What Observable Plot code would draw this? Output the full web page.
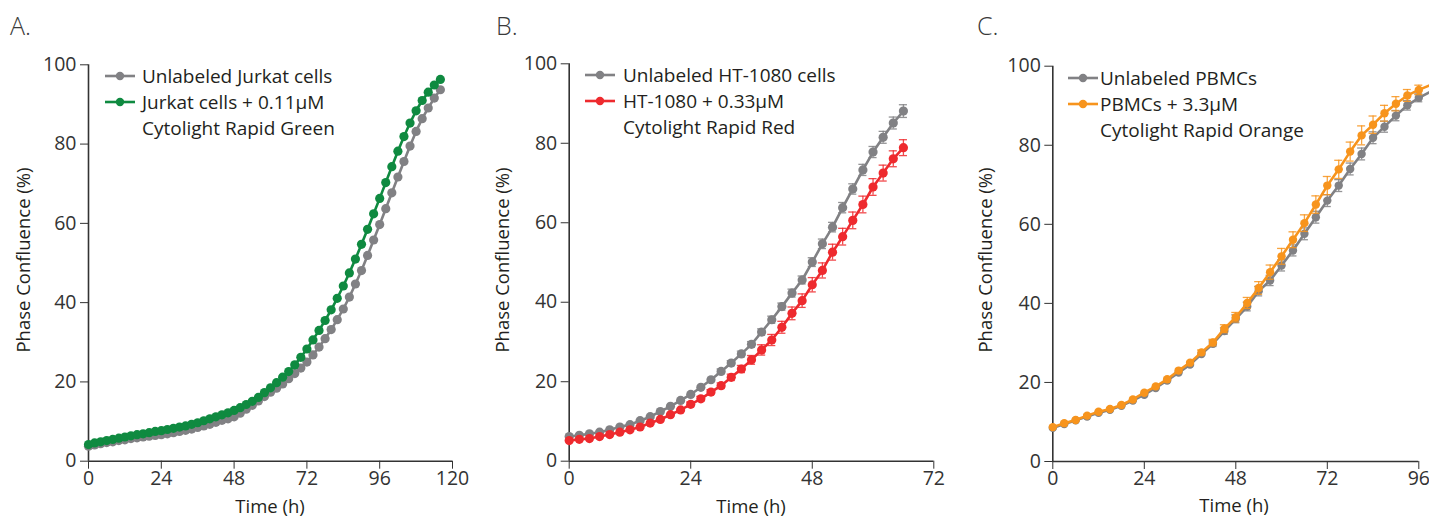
<!DOCTYPE html>
<html><head><meta charset="utf-8">
<script src="https://cdn.jsdelivr.net/npm/d3@7"></script>
<script src="https://cdn.jsdelivr.net/npm/@observablehq/plot@0.6"></script>
<style>
body{margin:0;width:1429px;height:517px;overflow:hidden;background:#fff;font-family:"Open Sans",Lato,sans-serif;color:#231f20;position:relative}
.panel{position:absolute;top:0}
.title{position:absolute;font-size:25px;font-weight:300;color:#3a3a3a;line-height:30px}
.lbl{position:absolute;font-size:18.5px;white-space:nowrap;line-height:22px;color:#231f20}
.ylbl{transform:translate(-50%,-50%) rotate(-90deg)}
.xlbl{transform:translate(-50%,-50%)}
.leg{position:absolute;font-size:19px;line-height:26px;white-space:nowrap;color:#231f20}
.sw{position:absolute}
</style>
</head><body>
<div id="root"></div>
<script>
// ---------- Panel A: Jurkat ----------
const timesA = [0,2,4,6,8,10,12,14,16,18,20,22,24,26,28,30,32,34,36,38,40,42,44,46,48,50,52,54,56,58,60,62,64,66,68,70,72,74,76,78,80,82,84,86,88,90,92,94,96,98,100,102,104,106,108,110,112,114,116];
const unlabeledJurkat = [3.8,4.1,4.4,4.7,4.9,5.2,5.4,5.7,5.9,6.1,6.3,6.5,6.7,6.9,7.2,7.5,7.8,8.1,8.5,8.9,9.3,9.8,10.3,10.7,11.2,12.1,13.1,14.1,15.2,16.3,17.4,18.4,19.5,20.8,22.1,23.5,25.0,26.8,28.8,30.9,33.2,35.7,38.4,41.4,44.7,48.1,51.9,55.8,59.7,63.7,67.7,71.7,75.6,79.5,83.2,86.4,89.1,91.6,93.7];
const jurkatGreen = [4.2,4.6,4.9,5.2,5.5,5.8,6.1,6.4,6.7,6.9,7.2,7.5,7.7,8.0,8.3,8.6,8.9,9.3,9.7,10.2,10.7,11.2,11.7,12.2,12.8,13.5,14.3,15.1,16.1,17.3,18.5,19.8,21.2,22.6,24.3,26.2,28.3,30.6,33.0,35.5,38.2,41.1,44.2,47.5,51.0,54.7,58.5,62.4,66.3,70.3,74.3,78.2,81.9,85.3,88.4,91.0,93.1,94.9,96.3];
const xTicksA = [0,24,48,72,96,120];

// ---------- Panel B: HT-1080 ----------
const timesB = [0,2,4,6,8,10,12,14,16,18,20,22,24,26,28,30,32,34,36,38,40,42,44,46,48,50,52,54,56,58,60,62,64,66];
const unlabeledHT = [6.2,6.5,6.9,7.3,7.9,8.6,9.2,10.2,11.2,12.5,13.8,15.3,16.8,18.6,20.5,22.6,24.7,27.0,29.4,32.5,35.6,38.9,42.3,45.6,50.1,54.7,58.9,63.8,68.5,73.3,77.8,81.5,85.1,88.1];
const unlabeledHTErr = [0.3,0.3,0.3,0.3,0.3,0.3,0.3,0.4,0.4,0.4,0.4,0.5,0.5,0.5,0.5,0.6,0.6,0.7,0.7,0.8,0.9,0.9,1.0,1.0,1.1,1.2,1.2,1.3,1.3,1.4,1.4,1.5,1.5,1.6];
const htRed = [5.2,5.5,5.7,6.2,6.7,7.3,7.9,8.6,9.6,10.5,11.7,12.9,14.3,15.7,17.4,19.0,21.1,23.2,25.5,28.0,30.5,33.7,37.2,40.4,44.4,48.0,52.6,56.5,60.6,64.6,69.0,72.5,76.1,78.9];
const htRedErr = [0.3,0.3,0.3,0.3,0.3,0.3,0.4,0.4,0.4,0.5,0.5,0.5,0.6,0.6,0.6,0.7,0.8,0.9,1.1,1.3,1.4,1.5,1.6,1.7,1.8,1.9,2.0,2.1,2.1,2.1,2.1,2.0,2.0,2.0];
const xTicksB = [0,24,48,72];

// ---------- Panel C: PBMCs ----------
const timesC = [0,3,6,9,12,15,18,21,24,27,30,33,36,39,42,45,48,51,54,57,60,63,66,69,72,75,78,81,84,87,90,93,96,99];
const unlabeledPBMC = [8.5,9.5,10.4,11.4,12.3,13.1,14.1,15.4,16.9,18.6,20.5,22.5,24.5,27.2,29.8,33.0,36.1,39.2,43.1,45.8,49.6,53.4,57.6,61.8,66.0,69.8,74.0,77.8,81.9,84.7,87.5,90.1,92.0,93.5];
const unlabeledPBMCErr = [0.3,0.3,0.3,0.3,0.3,0.3,0.4,0.4,0.4,0.4,0.5,0.5,0.5,0.5,0.7,0.8,1.0,1.1,1.2,1.3,1.4,1.4,1.5,1.5,1.5,1.5,1.5,1.5,1.5,1.4,1.3,1.2,1.0,0.8];
const pbmcOrange = [8.7,9.7,10.5,11.6,12.6,13.3,14.3,15.7,17.4,19.0,20.8,23.0,25.0,27.6,30.1,33.6,36.5,40.1,43.9,47.9,51.9,56.1,60.3,65.0,69.8,73.9,78.4,82.5,85.2,88.1,90.5,92.6,94.0,95.2];
const pbmcOrangeErr = [0.3,0.3,0.3,0.4,0.4,0.4,0.4,0.5,0.5,0.5,0.5,0.5,0.5,0.6,0.8,1.0,1.2,1.4,1.6,1.8,2.0,2.0,2.1,2.2,2.3,2.3,2.4,2.4,2.2,2.0,1.8,1.5,1.2,1.0];
const xTicksC = [0,24,48,72,96];

const yTicks = [0,20,40,60,80,100];
const GRAY = "#818184", GREEN = "#0f8a40", RED = "#ee2a2e", ORANGE = "#f7941d", AXIS = "#333";

const panels = [
  {letter:"A.", left:0, width:470, ml:88, mr:18, mt:64.3, mb:56.3, xmax:120, xticks:xTicksA, times:timesA,
   series:[{v:unlabeledJurkat, c:GRAY},{v:jurkatGreen, c:GREEN}], r:4.6, cap:0,
   titleX:10, ylabX:23, xlabX:270, xlabY:506,
   legX:105, legTextX:142, legY:76, legend:[["Unlabeled Jurkat cells"],["Jurkat cells + 0.11µM","Cytolight Rapid Green"]]},
  {letter:"B.", left:480, width:470, ml:88.7, mr:16.7, mt:63.3, mb:56.3, xmax:72, xticks:xTicksB, times:timesB,
   series:[{v:unlabeledHT, e:unlabeledHTErr, c:GRAY},{v:htRed, e:htRedErr, c:RED}], r:4.6, cap:0.8,
   titleX:496, ylabX:502, xlabX:751, xlabY:506,
   legX:585, legTextX:623, legY:75, legend:[["Unlabeled HT-1080 cells"],["HT-1080 + 0.33µM","Cytolight Rapid Red"]]},
  {letter:"C.", left:960, width:469, ml:92.3, mr:10.7, mt:65.7, mb:56, xmax:96, xticks:xTicksC, times:timesC,
   series:[{v:unlabeledPBMC, e:unlabeledPBMCErr, c:GRAY},{v:pbmcOrange, e:pbmcOrangeErr, c:ORANGE}], r:4.2, cap:1.05,
   titleX:977, ylabX:985, xlabX:1234, xlabY:505,
   legX:1068, legTextX:1100, legY:77.5, legend:[["Unlabeled PBMCs"],["PBMCs + 3.3µM","Cytolight Rapid Orange"]]}
];

const root = document.getElementById("root");
function add(html){ root.insertAdjacentHTML("beforeend", html); }

for (const p of panels) {
  const marks = [
    Plot.ruleY([0], {stroke: AXIS, strokeWidth: 1.6}),
    Plot.ruleX([0], {stroke: AXIS, strokeWidth: 1.6})
  ];
  for (const s of p.series) {
    const rows = p.times.map((t, i) => ({t, v: s.v[i], e: s.e ? s.e[i] : 0}));
    if (s.e) {
      const eb = rows.filter(d => d.e >= 0.6 && d.t <= p.xmax);
      marks.push(Plot.ruleX(eb, {x: "t", y1: d => d.v - d.e, y2: d => d.v + d.e, stroke: s.c, strokeWidth: 1.3, strokeOpacity: 0.85}));
      marks.push(Plot.ruleY(eb, {y: d => d.v + d.e, x1: d => d.t - p.cap, x2: d => d.t + p.cap, stroke: s.c, strokeWidth: 1.3, strokeOpacity: 0.85}));
      marks.push(Plot.ruleY(eb, {y: d => d.v - d.e, x1: d => d.t - p.cap, x2: d => d.t + p.cap, stroke: s.c, strokeWidth: 1.3, strokeOpacity: 0.85}));
    }
    marks.push(Plot.line(rows, {x: "t", y: "v", stroke: s.c, strokeWidth: 2.6}));
    marks.push(Plot.dot(rows.filter(d => d.t <= p.xmax), {x: "t", y: "v", r: p.r, fill: s.c, stroke: "none"}));
  }
  const chart = Plot.plot({
    width: p.width, height: 517,
    marginLeft: p.ml, marginRight: p.mr, marginTop: p.mt, marginBottom: p.mb,
    x: {domain: [0, p.xmax], ticks: p.xticks, tickSize: 8, tickPadding: 2, tickFormat: d => String(d), label: null},
    y: {domain: [0, 100], ticks: yTicks, tickSize: 8, tickPadding: 4, tickFormat: d => String(d), label: null},
    style: {fontSize: "19.5px", fontFamily: "'Open Sans', Lato, sans-serif", color: "#333", background: "transparent", overflow: "visible"},
    marks
  });
  chart.classList.add("panel");
  chart.style.left = p.left + "px";
  root.appendChild(chart);

  add(`<div class="title" style="left:${p.titleX}px;top:10px">${p.letter}</div>`);
  add(`<div class="lbl ylbl" style="left:${p.ylabX}px;top:260px">Phase Confluence (%)</div>`);
  add(`<div class="lbl xlbl" style="left:${p.xlabX}px;top:${p.xlabY}px">Time (h)</div>`);
  // legend
  const colors = p.series.map(s => s.c);
  let row = 0;
  p.legend.forEach((lines, k) => {
    const cy = p.legY + row * 26;
    add(`<svg class="sw" style="left:${p.legX}px;top:${cy - 6}px" width="31" height="12"><line x1="0" y1="6" x2="30" y2="6" stroke="${colors[k]}" stroke-width="2.6"/><circle cx="15" cy="6" r="4.2" fill="${colors[k]}"/></svg>`);
    add(`<div class="leg" style="left:${p.legTextX}px;top:${cy - 13}px">${lines.join("<br>")}</div>`);
    row += lines.length;
  });
}
</script>
</body></html>
